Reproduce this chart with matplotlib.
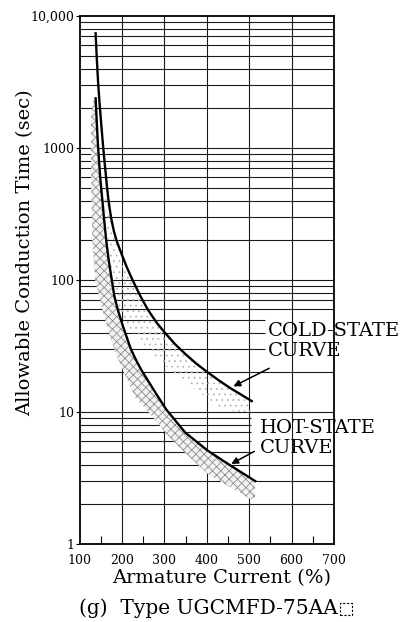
import matplotlib
matplotlib.use("Agg")
import matplotlib.pyplot as plt
from matplotlib.patches import Rectangle

plt.rcParams["font.family"] = ["DejaVu Serif"]
plt.rcParams["hatch.linewidth"] = 0.6

# curves (armature current %, seconds)
cold_x = [138, 141, 144, 147, 150, 153, 156, 159, 162, 165, 168, 171, 175, 181, 188, 200,
          212, 225, 244, 262, 283, 301, 325, 349, 375, 402, 428, 455, 480, 506]
cold_y = [7400, 4600, 3100, 2250, 1700, 1300, 1000, 790, 630, 500, 410, 350, 290, 235, 196, 155,
          124, 100, 75, 59, 47, 40, 32.7, 27.6, 23.3, 20, 17.4, 15.2, 13.6, 12.1]
hot_x = [138, 140, 142, 144, 146, 148.5, 151, 154, 157.5, 163, 169, 175.5, 182,
         190, 202, 221, 234, 247, 278, 304, 349, 402, 455, 514]
hot_y = [2380, 1750, 1300, 1000, 800, 620, 500, 400, 300, 200, 140, 103, 76,
         60, 45, 30, 24.5, 20.5, 14.2, 10.5, 7.0, 5.1, 3.95, 3.0]

# lower edge of the dark (hot) band, from right to left
hot_band_lx = [514, 502, 455, 402, 349, 309, 270, 231, 191, 172, 152, 137, 130, 128, 127, 132]
hot_band_ly = [2.2, 2.2, 2.7, 3.4, 4.9, 6.6, 9.4, 13, 25, 37, 63, 100, 200, 500, 1700, 2300]

# lower edge of the light (cold) band, from right to left
cold_band_lx = [506, 498, 427, 372, 320, 270, 231, 200, 175, 160]
cold_band_ly = [9.0, 9.3, 11, 15, 20, 28, 38, 52, 110, 400]

x_ticks = [100, 200, 300, 400, 500, 600, 700]
y_ticks = [1, 10, 100, 1000, 10000]
y_tick_labels = ["1", "10", "100", "1000", "10,000"]

fig = plt.figure(figsize=(4.16, 6.22), dpi=100)
ax = fig.add_axes([79.5 / 416, 1 - 544 / 622, (334 - 79.5) / 416, (544 - 16) / 622])
ax.set_yscale("log")
ax.set_xlim(100, 700)
ax.set_ylim(1, 10000)

# grid: horizontal lines at every 1..9 of each decade, some cut short by the labels
short_a = [30, 40, 50]
short_b = [5, 6, 7, 8, 9]
for dec in [1, 10, 100, 1000]:
    for m in range(1, 10):
        v = m * dec
        if v in short_a:
            xend = 538
        elif v in short_b:
            xend = 505
        else:
            xend = 700
        ax.hlines(v, 100, xend, color="#1a1a1a", lw=0.8, zorder=1)
for xv in [200, 300, 400, 500, 600]:
    ax.axvline(xv, color="#1a1a1a", lw=0.8, zorder=1)

# stippled bands
cb_x = [x for x in cold_x if x >= 160]
cb_y = [y for x, y in zip(cold_x, cold_y) if x >= 160]
ax.fill([160] + cb_x + cold_band_lx, [400] + cb_y + cold_band_ly,
        facecolor="none", edgecolor="#b5b5b5", hatch="...", lw=0, zorder=2)
ax.fill(hot_x + hot_band_lx, hot_y + hot_band_ly,
        facecolor="#f2f2f2", edgecolor="#8f8f8f", hatch="xxxx", lw=0, zorder=2)

ax.plot(cold_x, cold_y, color="black", lw=1.7, zorder=4, solid_joinstyle="round")
ax.plot(hot_x, hot_y, color="black", lw=1.7, zorder=4, solid_joinstyle="round")

# arrows to the curves
ax.annotate("", xy=(457, 15.3), xytext=(553, 21.9),
            arrowprops=dict(arrowstyle="-|>", color="black", lw=1.1, mutation_scale=10))
ax.annotate("", xy=(452, 3.95), xytext=(518, 5.15),
            arrowprops=dict(arrowstyle="-|>", color="black", lw=1.1, mutation_scale=10))

ax.set_xticks(x_ticks)
ax.set_xticklabels([str(v) for v in x_ticks], fontsize=9)
ax.set_xticks([150, 250, 350, 450, 550, 650], minor=True)
ax.set_yticks(y_ticks)
ax.set_yticklabels(y_tick_labels, fontsize=9)
ax.yaxis.set_minor_locator(matplotlib.ticker.NullLocator())
ax.tick_params(axis="x", which="major", length=0, pad=7)
ax.tick_params(axis="x", which="minor", direction="in", length=6, width=0.8)
ax.tick_params(axis="y", which="major", length=3, pad=1)
for s in ax.spines.values():
    s.set_linewidth(1.3)
    s.set_zorder(5)

fig.text(268 / 416, 1 - 322 / 622, "COLD-STATE\nCURVE", fontsize=14, va="top", ha="left",
         linespacing=1.15)
fig.text(260 / 416, 1 - 419 / 622, "HOT-STATE\nCURVE", fontsize=14, va="top", ha="left",
         linespacing=1.15)

fig.text(25 / 416, 1 - 253 / 622, "Allowable Conduction Time (sec)", rotation=90,
         fontsize=14, ha="center", va="center")
fig.text(222 / 416, 1 - 578 / 622, "Armature Current (%)", fontsize=14,
         ha="center", va="center")
cap = fig.text(208 / 416, 1 - 608 / 622, "(g)  Type UGCMFD-75AA", fontsize=14.5,
               ha="center", va="center")

# dashed box after the type name
fig.canvas.draw()
bb = cap.get_window_extent()
fig.patches.append(Rectangle((bb.x1 + 3, bb.y0 + 3), 12, 12, transform=None,
                             fill=False, ls=(0, (2, 1.5)), lw=0.8, edgecolor="black"))

fig.savefig("out.png", dpi=100)
